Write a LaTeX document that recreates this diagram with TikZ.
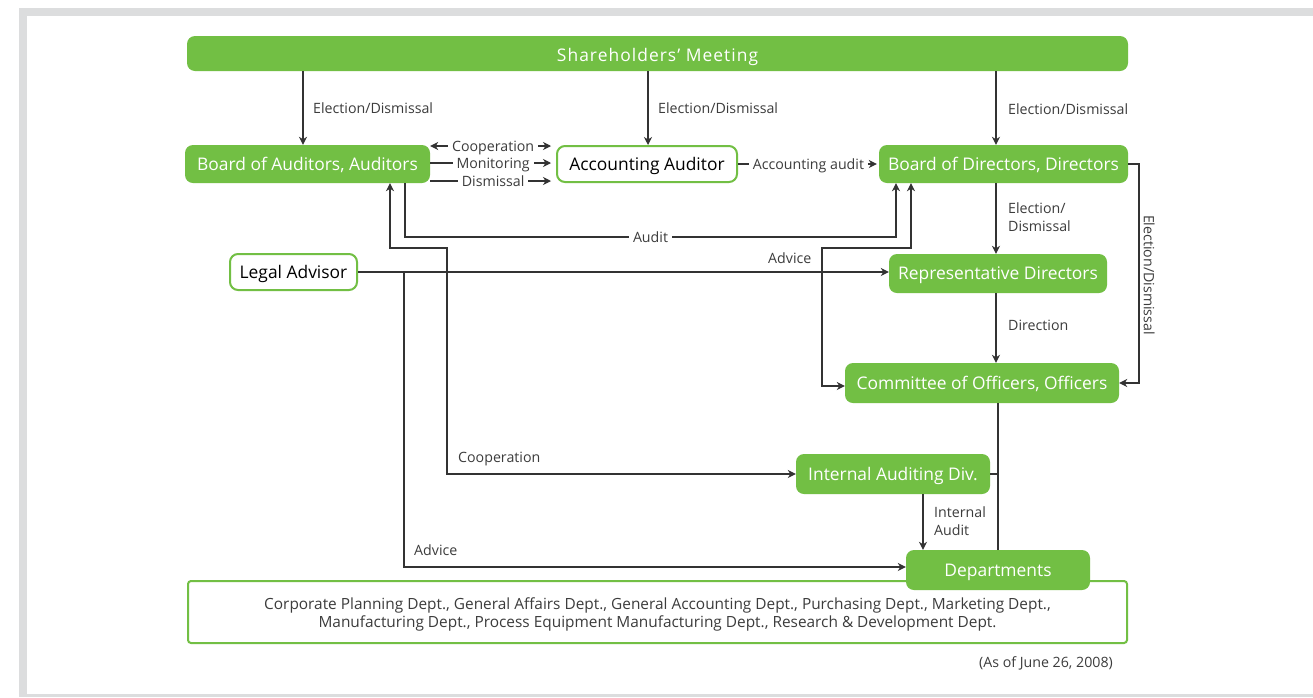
\documentclass[tikz,border=0pt]{standalone}
\usepackage{fontspec}
\setmainfont{Open Sans}
\usetikzlibrary{arrows.meta,calc}
\definecolor{leaf}{HTML}{72BF44}
\definecolor{ink}{HTML}{333333}
\definecolor{txt}{HTML}{3C3C3C}
\definecolor{frame}{HTML}{DCDDDE}
\begin{document}
\begin{tikzpicture}[x=1pt,y=-1pt,
  boxfont/.style={font=\fontsize{17.4}{20}\selectfont,text height=12.4pt,text depth=0pt},
  gbox/.style={rectangle,rounded corners=8pt,fill=leaf,text=white,inner sep=0pt,boxfont},
  wbox/.style={rectangle,rounded corners=8pt,draw=leaf,line width=2pt,fill=white,text=black,
    inner sep=0pt,boxfont},
  lbl/.style={text=txt,inner sep=0pt,font=\fontsize{14.2}{18}\selectfont,text height=10.1pt,text depth=0pt},
  lbl2/.style={text=txt,inner sep=0pt,font=\fontsize{14.2}{18}\selectfont,align=left},
  cut/.style={lbl,fill=white,inner xsep=4pt,inner ysep=2pt},
  wire/.style={draw=ink,line width=1.1pt},
  arr/.style={wire,-{Stealth[length=8pt,width=8pt,inset=2.5pt]}},
  arrs/.style={wire,{Stealth[length=8pt,width=8pt,inset=2.5pt]}-{Stealth[length=8pt,width=8pt,inset=2.5pt]}}]
\useasboundingbox (0,0) rectangle (1313,697);
% page frame
\fill[frame] (19,8) rectangle (1313,697);
\fill[white] (27,16) rectangle (1313,694);

% boxes
\node[gbox,minimum width=941pt,minimum height=35pt,text height=16.5pt] (sm) at (657.5,53.5)
  {\addfontfeature{LetterSpace=6}Shareholders’ Meeting};
\node[gbox,minimum width=245pt,minimum height=38pt] (boa) at (307.5,164) {Board of Auditors, Auditors};
\node[wbox,minimum width=180pt,minimum height=36pt] (aa) at (647,164) {Accounting Auditor};
\node[gbox,minimum width=249pt,minimum height=38pt] (bod) at (1003.5,164) {Board of Directors, Directors};
\node[wbox,minimum width=127pt,minimum height=36pt] (la) at (293.5,272) {Legal Advisor};
\node[gbox,minimum width=218pt,minimum height=39pt] (rd) at (998,273.5) {Representative Directors};
\node[gbox,minimum width=274pt,minimum height=40pt] (co) at (982,383) {Committee of Officers, Officers};
\node[gbox,minimum width=194pt,minimum height=40pt] (iad) at (893,474) {Internal Auditing Div.};
% department list frame and its text
\node[rectangle,rounded corners=3pt,draw=leaf,line width=2pt,fill=white,minimum width=939pt,
  minimum height=62pt] (list) at (657.5,612) {};
\node[align=center,text=txt,inner sep=0pt,font=\fontsize{15.4}{18}\selectfont,yshift=-2pt] (listtext) at (list.center)
  {Corporate Planning Dept., General Affairs Dept., General Accounting Dept., Purchasing Dept., Marketing Dept.,\\
   Manufacturing Dept., Process Equipment Manufacturing Dept., Research \& Development Dept.};
\node[gbox,minimum width=184pt,minimum height=40pt] (dep) at (998,570) {Departments};
\node[lbl,anchor=east] (date) at (1113,662) {(As of June 26, 2008)};

% election by the shareholders
\draw[arr] (303,0 |- sm.south) -- (303,0 |- boa.north);
\draw[arr] (648,0 |- sm.south) -- (648,0 |- aa.north);
\draw[arr] (996,0 |- sm.south) -- (996,0 |- bod.north);
\node[lbl,anchor=west] (e1) at (313,108) {Election/Dismissal};
\node[lbl,anchor=west] (e2) at (658,108) {Election/Dismissal};
\node[lbl,anchor=west] (e3) at (1008,109) {Election/Dismissal};

% auditors and accounting auditor
\draw[arrs,shorten >=5pt] (boa.east |- 0,146) -- node[cut] {Cooperation} (aa.west |- 0,146);
\draw[arr,shorten >=5pt] (boa.east |- 0,163) -- node[cut] {Monitoring} (aa.west |- 0,163);
\draw[arr,shorten >=5pt] (boa.east |- 0,181) -- node[cut] {Dismissal} (aa.west |- 0,181);
\draw[arr,shorten >=2pt] (aa.east |- 0,164) -- node[cut] {Accounting audit} (bod.west |- 0,164);

% audit of the board
\draw[arr] (405,0 |- boa.south) -- (405,237) -- node[cut] {Audit} (896,237) -- (896,0 |- bod.south);
% cooperation with internal auditing
\draw[arrs] (390,0 |- boa.south) -- (390,248) -- (447,248) -- (447,0 |- iad.west) -- (iad.west);
\node[lbl,anchor=west] (c2) at (458,457) {Cooperation};
% board to committee of officers
\draw[arrs] (911,0 |- bod.south) -- (911,248) -- (822,248) -- (822,386) -- (co.west |- 0,386);

% legal advice
\draw[arr] (la.east) -- (la.east -| rd.west);
\node[lbl,anchor=west] (a1) at (768,258) {Advice};
\draw[arr] (404,0 |- la.east) -- (404,567) -- (dep.west |- 0,567);
\node[lbl,anchor=west] (a2) at (414,550) {Advice};

% directors chain
\draw[arr] (996,0 |- bod.south) -- (996,0 |- rd.north);
\node[lbl2,anchor=north west] (e4) at (1008,203) {Election/\\Dismissal};
\draw[arr] (996,0 |- rd.south) -- (996,0 |- co.north);
\node[lbl,anchor=west] (d1) at (1008,325) {Direction};
\draw[arr] (bod.east) -- (1139,0 |- bod.east) -- (1139,0 |- co.east) -- (co.east);
\node[lbl,rotate=-90] (e5) at (1149,275) {Election/Dismissal};

% officers down to departments
\draw[wire] (998,0 |- co.south) -- (998,0 |- dep.north);
\draw[wire] (iad.east) -- (998,0 |- iad.east);
\draw[arr] (923,0 |- iad.south) -- (923,0 |- dep.north);
\node[lbl2,anchor=north west] (ia) at (934,506) {Internal\\Audit};
\end{tikzpicture}
\end{document}
